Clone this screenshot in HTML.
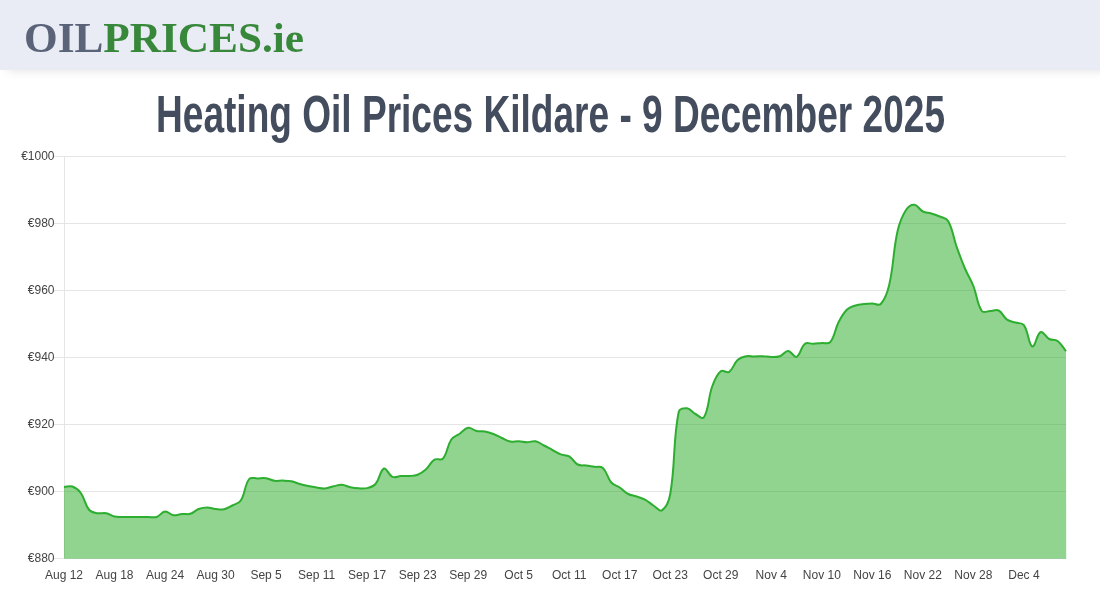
<!DOCTYPE html>
<html><head><meta charset="utf-8"><title>Heating Oil Prices Kildare</title>
<style>
html,body{margin:0;padding:0;background:#fff;width:1100px;height:600px;overflow:hidden;font-family:"Liberation Sans",sans-serif}
#hdr{position:absolute;left:0;top:0;width:1100px;height:70px;background:#e9ecf4;box-shadow:8px 0 10px rgba(0,0,0,.13)}
svg{position:absolute;left:0;top:0;will-change:transform}
text{font-family:"Liberation Sans",sans-serif;font-size:12px;fill:#444}
</style></head><body>
<div id="hdr"></div>
<svg width="1100" height="600" viewBox="0 0 1100 600">
<defs><filter id="lb" x="-5%" y="-20%" width="110%" height="140%"><feGaussianBlur stdDeviation="0.45"/></filter></defs>
<g filter="url(#lb)"><text x="24" y="51.6" textLength="280" lengthAdjust="spacingAndGlyphs" style="font-family:'Liberation Serif',serif;font-size:42px;font-weight:bold;fill:#5a6478"><tspan style="fill:#5a6478">OIL</tspan><tspan style="fill:#38883a">PRICES.ie</tspan></text></g>
<text x="156" y="132" textLength="789" lengthAdjust="spacingAndGlyphs" style="font-family:'Liberation Sans',sans-serif;font-size:51px;font-weight:bold;fill:#434d5e">Heating Oil Prices Kildare - 9 December 2025</text>
<path d="M54 156.5H1066.4M54 223.5H1066.4M54 290.5H1066.4M54 357.5H1066.4M54 424.5H1066.4M54 491.5H1066.4M54 558.5H1066.4M64.5 156V559" stroke="#e5e5e5" stroke-width="1" fill="none" shape-rendering="crispEdges"/>
<g>
<path d="M64 487C67.37 486.8 69.44 485.44 72.42 486.5C76.18 487.84 78.42 489.62 80.84 493C85.16 499.02 84.69 504.52 89.26 510C91.43 512.6 94.2 512.54 97.68 513.2C100.94 513.82 102.85 512.56 106.1 513.2C109.59 513.88 111.03 515.73 114.52 516.5C117.77 517.21 119.57 516.82 122.94 516.9C126.31 516.98 127.99 516.9 131.36 516.9C134.73 516.9 136.41 516.9 139.78 516.9C143.15 516.9 144.83 516.88 148.2 516.9C151.57 516.92 153.55 517.98 156.62 517C160.29 515.82 161.53 511.85 165.04 511.5C168.27 511.17 169.96 514.78 173.46 515.3C176.69 515.78 178.49 514.3 181.88 514C185.23 513.7 187.17 514.73 190.3 513.8C193.91 512.73 195.14 510.34 198.72 509C201.88 507.82 203.77 507.5 207.14 507.5C210.51 507.5 212.17 508.64 215.56 509C218.91 509.36 220.77 509.97 223.98 509.3C227.51 508.57 229.13 507.21 232.4 505.5C235.87 503.69 238.82 503.66 240.82 500.5C245.55 493.06 244.31 485.47 249.24 479C251.05 476.63 254.29 478.56 257.66 478.4C261.03 478.24 262.79 477.73 266.08 478.2C269.53 478.69 271.06 480.31 274.5 480.8C277.8 481.27 279.56 480.5 282.92 480.6C286.3 480.7 288.05 480.64 291.34 481.3C294.79 482 296.36 483.05 299.76 484C303.1 484.93 304.8 485.3 308.18 486C311.53 486.7 313.22 487.02 316.61 487.5C319.96 487.98 321.7 488.64 325.03 488.4C328.43 488.16 330.05 487.03 333.45 486.3C336.79 485.59 338.54 484.62 341.87 484.8C345.27 484.98 346.87 486.49 350.29 487.2C353.6 487.89 355.32 488.12 358.71 488.3C362.06 488.48 363.94 488.91 367.13 488.1C370.67 487.19 373.21 486.72 375.55 484C379.95 478.88 379.93 470.22 383.97 468.5C386.67 467.34 388.46 475.05 392.39 476.8C395.2 478.05 397.43 476.16 400.81 476C404.17 475.84 405.88 476.26 409.23 476C412.61 475.74 414.56 475.95 417.65 474.7C421.29 473.23 423.1 471.86 426.07 469.2C429.84 465.82 430.44 462.13 434.49 459.6C437.17 457.93 440.97 461.01 442.91 458.7C447.71 452.97 446.8 446.22 451.33 439.5C453.54 436.22 456.39 436.03 459.75 433.7C463.13 431.35 464.58 428.38 468.17 427.8C471.31 427.3 473.11 430.24 476.59 431C479.85 431.72 481.71 430.91 485.01 431.5C488.44 432.11 490.16 432.74 493.43 434C496.9 435.34 498.44 436.48 501.85 438C505.18 439.48 506.77 440.83 510.27 441.5C513.5 442.11 515.33 441.06 518.69 441.2C522.07 441.34 523.74 442.18 527.11 442.2C530.48 442.22 532.34 440.67 535.53 441.3C539.07 441.99 540.61 443.77 543.95 445.5C547.34 447.25 548.99 448.22 552.37 450C555.73 451.78 557.26 453.06 560.79 454.4C564 455.62 566.34 454.68 569.21 456.4C573.08 458.72 573.73 462.39 577.63 464.5C580.46 466.03 582.69 465.04 586.05 465.5C589.43 465.96 591.1 466.3 594.47 466.8C597.84 467.3 600.62 465.89 602.89 468C607.36 472.17 607.06 477.58 611.31 482.5C613.79 485.38 616.5 485.3 619.73 487.5C623.24 489.9 624.46 492.03 628.15 494C631.2 495.63 633.25 495.37 636.57 496.5C639.98 497.65 641.84 498.01 644.99 499.7C648.57 501.61 649.96 503.31 653.41 505.5C656.7 507.59 659.5 511.99 661.83 510.4C666.24 507.39 669.02 501.19 670.25 494C675.76 461.83 672.61 442.84 678.67 412C679.35 408.56 683.89 407.92 687.09 408.3C690.63 408.72 691.95 412.09 695.51 414C698.68 415.69 702.46 419.74 703.93 417.3C709.2 408.54 707.93 398.08 712.35 386C714.67 379.68 716.28 375.09 720.77 371.3C723.01 369.41 726.72 373.46 729.19 371.8C733.45 368.94 733.49 363.79 737.61 360C740.23 357.59 742.52 357.03 746.03 356.3C749.25 355.63 751.09 356.52 754.45 356.5C757.82 356.48 759.51 356.1 762.87 356.2C766.25 356.3 767.93 357 771.29 357C774.66 357 776.61 357.31 779.71 356.2C783.35 354.91 784.82 350.88 788.13 351C791.56 351.12 793.88 357.95 796.55 356.8C800.61 355.07 800.61 347.17 804.97 343.8C807.35 341.97 810.03 343.96 813.39 343.8C816.77 343.64 818.45 343.32 821.82 343C825.18 342.68 828.36 344.54 830.24 342.2C835.09 336.14 834.67 329.75 838.66 322C841.4 316.67 842.91 313.58 847.08 309.5C849.65 306.98 851.98 306.65 855.5 305.5C858.72 304.45 860.52 304.4 863.92 304C867.26 303.6 868.97 303.5 872.34 303.5C875.7 303.5 878.81 306.14 880.76 304C885.55 298.74 887.32 293.04 889.18 285C894.06 263.84 892.83 252.22 897.6 231C899.57 222.22 901.33 217.29 906.02 210C908.07 206.81 911.21 204.51 914.44 204.8C917.95 205.11 919.12 209.57 922.86 211.5C925.86 213.05 927.96 212.52 931.28 213.5C934.7 214.52 936.44 215.05 939.7 216.5C943.18 218.05 946.35 217.85 948.12 221C953.09 229.85 952.95 236.38 956.54 246.5C959.69 255.38 961.27 259.84 964.96 268.5C968 275.64 970.52 278.79 973.38 286C977.26 295.79 976.69 303.42 981.8 311C983.43 313.42 986.85 311.1 990.22 311C993.59 310.9 995.91 309.11 998.64 310.5C1002.65 312.55 1003.14 316.81 1007.06 319.6C1009.87 321.61 1012.1 321.38 1015.48 322.5C1018.84 323.62 1022.02 322.53 1023.9 325.2C1028.76 332.13 1028.43 344.93 1032.32 346.5C1035.17 347.65 1036.66 333.81 1040.74 332C1043.4 330.81 1045.4 336.99 1049.16 339C1052.13 340.59 1054.92 339.07 1057.58 341C1061.65 343.95 1062.63 347.12 1066 351.2L1066.2 558.7 L64 558.7 Z" fill="rgba(34,170,34,0.5)"/>
<path d="M64 487C67.37 486.8 69.44 485.44 72.42 486.5C76.18 487.84 78.42 489.62 80.84 493C85.16 499.02 84.69 504.52 89.26 510C91.43 512.6 94.2 512.54 97.68 513.2C100.94 513.82 102.85 512.56 106.1 513.2C109.59 513.88 111.03 515.73 114.52 516.5C117.77 517.21 119.57 516.82 122.94 516.9C126.31 516.98 127.99 516.9 131.36 516.9C134.73 516.9 136.41 516.9 139.78 516.9C143.15 516.9 144.83 516.88 148.2 516.9C151.57 516.92 153.55 517.98 156.62 517C160.29 515.82 161.53 511.85 165.04 511.5C168.27 511.17 169.96 514.78 173.46 515.3C176.69 515.78 178.49 514.3 181.88 514C185.23 513.7 187.17 514.73 190.3 513.8C193.91 512.73 195.14 510.34 198.72 509C201.88 507.82 203.77 507.5 207.14 507.5C210.51 507.5 212.17 508.64 215.56 509C218.91 509.36 220.77 509.97 223.98 509.3C227.51 508.57 229.13 507.21 232.4 505.5C235.87 503.69 238.82 503.66 240.82 500.5C245.55 493.06 244.31 485.47 249.24 479C251.05 476.63 254.29 478.56 257.66 478.4C261.03 478.24 262.79 477.73 266.08 478.2C269.53 478.69 271.06 480.31 274.5 480.8C277.8 481.27 279.56 480.5 282.92 480.6C286.3 480.7 288.05 480.64 291.34 481.3C294.79 482 296.36 483.05 299.76 484C303.1 484.93 304.8 485.3 308.18 486C311.53 486.7 313.22 487.02 316.61 487.5C319.96 487.98 321.7 488.64 325.03 488.4C328.43 488.16 330.05 487.03 333.45 486.3C336.79 485.59 338.54 484.62 341.87 484.8C345.27 484.98 346.87 486.49 350.29 487.2C353.6 487.89 355.32 488.12 358.71 488.3C362.06 488.48 363.94 488.91 367.13 488.1C370.67 487.19 373.21 486.72 375.55 484C379.95 478.88 379.93 470.22 383.97 468.5C386.67 467.34 388.46 475.05 392.39 476.8C395.2 478.05 397.43 476.16 400.81 476C404.17 475.84 405.88 476.26 409.23 476C412.61 475.74 414.56 475.95 417.65 474.7C421.29 473.23 423.1 471.86 426.07 469.2C429.84 465.82 430.44 462.13 434.49 459.6C437.17 457.93 440.97 461.01 442.91 458.7C447.71 452.97 446.8 446.22 451.33 439.5C453.54 436.22 456.39 436.03 459.75 433.7C463.13 431.35 464.58 428.38 468.17 427.8C471.31 427.3 473.11 430.24 476.59 431C479.85 431.72 481.71 430.91 485.01 431.5C488.44 432.11 490.16 432.74 493.43 434C496.9 435.34 498.44 436.48 501.85 438C505.18 439.48 506.77 440.83 510.27 441.5C513.5 442.11 515.33 441.06 518.69 441.2C522.07 441.34 523.74 442.18 527.11 442.2C530.48 442.22 532.34 440.67 535.53 441.3C539.07 441.99 540.61 443.77 543.95 445.5C547.34 447.25 548.99 448.22 552.37 450C555.73 451.78 557.26 453.06 560.79 454.4C564 455.62 566.34 454.68 569.21 456.4C573.08 458.72 573.73 462.39 577.63 464.5C580.46 466.03 582.69 465.04 586.05 465.5C589.43 465.96 591.1 466.3 594.47 466.8C597.84 467.3 600.62 465.89 602.89 468C607.36 472.17 607.06 477.58 611.31 482.5C613.79 485.38 616.5 485.3 619.73 487.5C623.24 489.9 624.46 492.03 628.15 494C631.2 495.63 633.25 495.37 636.57 496.5C639.98 497.65 641.84 498.01 644.99 499.7C648.57 501.61 649.96 503.31 653.41 505.5C656.7 507.59 659.5 511.99 661.83 510.4C666.24 507.39 669.02 501.19 670.25 494C675.76 461.83 672.61 442.84 678.67 412C679.35 408.56 683.89 407.92 687.09 408.3C690.63 408.72 691.95 412.09 695.51 414C698.68 415.69 702.46 419.74 703.93 417.3C709.2 408.54 707.93 398.08 712.35 386C714.67 379.68 716.28 375.09 720.77 371.3C723.01 369.41 726.72 373.46 729.19 371.8C733.45 368.94 733.49 363.79 737.61 360C740.23 357.59 742.52 357.03 746.03 356.3C749.25 355.63 751.09 356.52 754.45 356.5C757.82 356.48 759.51 356.1 762.87 356.2C766.25 356.3 767.93 357 771.29 357C774.66 357 776.61 357.31 779.71 356.2C783.35 354.91 784.82 350.88 788.13 351C791.56 351.12 793.88 357.95 796.55 356.8C800.61 355.07 800.61 347.17 804.97 343.8C807.35 341.97 810.03 343.96 813.39 343.8C816.77 343.64 818.45 343.32 821.82 343C825.18 342.68 828.36 344.54 830.24 342.2C835.09 336.14 834.67 329.75 838.66 322C841.4 316.67 842.91 313.58 847.08 309.5C849.65 306.98 851.98 306.65 855.5 305.5C858.72 304.45 860.52 304.4 863.92 304C867.26 303.6 868.97 303.5 872.34 303.5C875.7 303.5 878.81 306.14 880.76 304C885.55 298.74 887.32 293.04 889.18 285C894.06 263.84 892.83 252.22 897.6 231C899.57 222.22 901.33 217.29 906.02 210C908.07 206.81 911.21 204.51 914.44 204.8C917.95 205.11 919.12 209.57 922.86 211.5C925.86 213.05 927.96 212.52 931.28 213.5C934.7 214.52 936.44 215.05 939.7 216.5C943.18 218.05 946.35 217.85 948.12 221C953.09 229.85 952.95 236.38 956.54 246.5C959.69 255.38 961.27 259.84 964.96 268.5C968 275.64 970.52 278.79 973.38 286C977.26 295.79 976.69 303.42 981.8 311C983.43 313.42 986.85 311.1 990.22 311C993.59 310.9 995.91 309.11 998.64 310.5C1002.65 312.55 1003.14 316.81 1007.06 319.6C1009.87 321.61 1012.1 321.38 1015.48 322.5C1018.84 323.62 1022.02 322.53 1023.9 325.2C1028.76 332.13 1028.43 344.93 1032.32 346.5C1035.17 347.65 1036.66 333.81 1040.74 332C1043.4 330.81 1045.4 336.99 1049.16 339C1052.13 340.59 1054.92 339.07 1057.58 341C1061.65 343.95 1062.63 347.12 1066 351.2" fill="none" stroke="#2eae30" stroke-width="2" stroke-linejoin="round" stroke-linecap="butt"/>
</g>
<g opacity=".999"><text x="54.5" y="160" text-anchor="end">€1000</text><text x="54.5" y="227" text-anchor="end">€980</text><text x="54.5" y="294" text-anchor="end">€960</text><text x="54.5" y="361" text-anchor="end">€940</text><text x="54.5" y="428" text-anchor="end">€920</text><text x="54.5" y="495" text-anchor="end">€900</text><text x="54.5" y="562" text-anchor="end">€880</text>
<text x="64" y="579" text-anchor="middle">Aug 12</text><text x="114.52" y="579" text-anchor="middle">Aug 18</text><text x="165.04" y="579" text-anchor="middle">Aug 24</text><text x="215.56" y="579" text-anchor="middle">Aug 30</text><text x="266.08" y="579" text-anchor="middle">Sep 5</text><text x="316.61" y="579" text-anchor="middle">Sep 11</text><text x="367.13" y="579" text-anchor="middle">Sep 17</text><text x="417.65" y="579" text-anchor="middle">Sep 23</text><text x="468.17" y="579" text-anchor="middle">Sep 29</text><text x="518.69" y="579" text-anchor="middle">Oct 5</text><text x="569.21" y="579" text-anchor="middle">Oct 11</text><text x="619.73" y="579" text-anchor="middle">Oct 17</text><text x="670.25" y="579" text-anchor="middle">Oct 23</text><text x="720.77" y="579" text-anchor="middle">Oct 29</text><text x="771.29" y="579" text-anchor="middle">Nov 4</text><text x="821.82" y="579" text-anchor="middle">Nov 10</text><text x="872.34" y="579" text-anchor="middle">Nov 16</text><text x="922.86" y="579" text-anchor="middle">Nov 22</text><text x="973.38" y="579" text-anchor="middle">Nov 28</text><text x="1023.9" y="579" text-anchor="middle">Dec 4</text></g>
</svg>
</body></html>
